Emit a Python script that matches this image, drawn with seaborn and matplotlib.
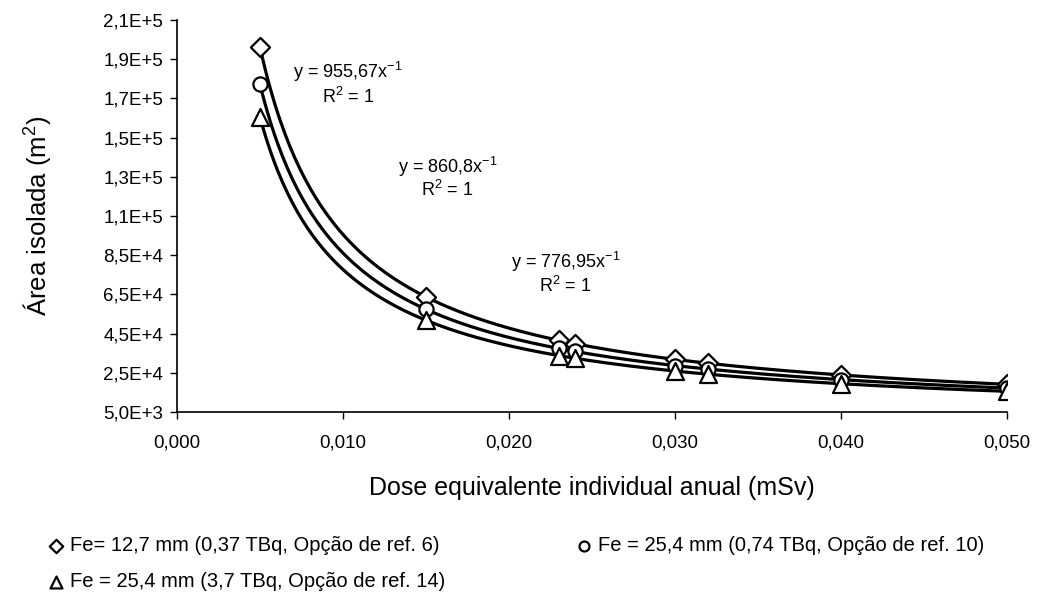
import numpy as np
import pandas as pd
import matplotlib
matplotlib.use("Agg")
import matplotlib.pyplot as plt
import seaborn as sns
from matplotlib.ticker import FixedLocator, FixedFormatter

# ---- data ----
dose = [0.005, 0.015, 0.023, 0.024, 0.030, 0.032, 0.040, 0.050]
area_diamond = [191000, 63700, 41600, 39800, 31900, 29900, 23900, 19100]
area_circle = [172200, 57400, 37400, 35900, 28700, 26900, 21500, 17200]
area_triangle = [155400, 51800, 33800, 32400, 25900, 24300, 19400, 15500]
fit_coef = [955.67, 860.8, 776.95]
fit_labels = ["y = 955,67x$^{-1}$", "y = 860,8x$^{-1}$", "y = 776,95x$^{-1}$"]
series_labels = [
    "Fe= 12,7 mm (0,37 TBq, Opção de ref. 6)",
    "Fe = 25,4 mm (0,74 TBq, Opção de ref. 10)",
    "Fe = 25,4 mm (3,7 TBq, Opção de ref. 14)",
]
y_ticks = [5000, 25000, 45000, 65000, 85000, 105000, 125000, 145000, 165000, 185000, 205000]
y_tick_labels = ["5,0E+3", "2,5E+4", "4,5E+4", "6,5E+4", "8,5E+4", "1,1E+5",
                 "1,3E+5", "1,5E+5", "1,7E+5", "1,9E+5", "2,1E+5"]
x_ticks = [0.0, 0.01, 0.02, 0.03, 0.04, 0.05]
x_tick_labels = ["0,000", "0,010", "0,020", "0,030", "0,040", "0,050"]

sns.set_style("ticks")
plt.rcParams["font.family"] = ["Liberation Sans", "DejaVu Sans"]
plt.rcParams["text.color"] = "black"
plt.rcParams["axes.labelcolor"] = "black"
plt.rcParams["mathtext.fontset"] = "custom"
plt.rcParams["mathtext.rm"] = "Liberation Sans"
plt.rcParams["mathtext.it"] = "Liberation Sans"
plt.rcParams["mathtext.default"] = "regular"

fig = plt.figure(figsize=(10.45, 6.01), dpi=100)
ax = fig.add_axes([177 / 1045, 1 - 412 / 601, 830 / 1045, 392 / 601])

# trend lines (power fits shown on the chart)
xs = np.linspace(dose[0], dose[-1], 300)
curve_df = pd.concat([
    pd.DataFrame({"x": xs, "y": c / xs, "fit": str(i)}) for i, c in enumerate(fit_coef)
])
sns.lineplot(data=curve_df, x="x", y="y", units="fit", estimator=None,
             color="black", linewidth=2.3, legend=False, ax=ax, zorder=2)

markers = ["D", "o", "^"]
sizes = [95, 105, 150]
point_series = [area_diamond, area_circle, area_triangle]
for vals, mk, lab, s in zip(point_series, markers, series_labels, sizes):
    sns.scatterplot(x=dose, y=vals, marker=mk, s=s, facecolor="white",
                    edgecolor="black", linewidth=1.6, label=lab, ax=ax, zorder=3)

ax.set_xlim(0, 0.05)
ax.set_ylim(5000, 205000)
ax.yaxis.set_major_locator(FixedLocator(y_ticks))
ax.yaxis.set_major_formatter(FixedFormatter(y_tick_labels))
ax.xaxis.set_major_locator(FixedLocator(x_ticks))
ax.xaxis.set_major_formatter(FixedFormatter(x_tick_labels))
ax.tick_params(axis="both", labelsize=13.5, direction="out", length=5, width=1,
               colors="black")
ax.tick_params(axis="x", pad=11)
ax.tick_params(axis="y", pad=5)
for side in ["top", "right"]:
    ax.spines[side].set_visible(False)
for side in ["left", "bottom"]:
    ax.spines[side].set_linewidth(1.2)
    ax.spines[side].set_color("black")

ax.set_xlabel("Dose equivalente individual anual (mSv)", fontsize=18)
ax.set_ylabel("Área isolada (m$^2$)", fontsize=18.5)
ax.xaxis.set_label_coords(0.5, -64 / 392, transform=ax.transAxes)
ax.yaxis.set_label_coords(-124 / 830, 0.5, transform=ax.transAxes)

# equations
eq_pos = [(0.0103, 178500, 165700), (0.0163, 130000, 118300), (0.0234, 81500, 69300)]
for lab, (xp, y1, y2) in zip(fit_labels, eq_pos):
    ax.text(xp, y1, lab, fontsize=13, ha="center", va="center")
    ax.text(xp, y2, "R$^2$ = 1", fontsize=13, ha="center", va="center")

handles, labels = ax.get_legend_handles_labels()
ax.get_legend().remove()
order = [0, 2, 1]
fig.legend([handles[i] for i in order], [labels[i] for i in order],
           loc="upper left", bbox_to_anchor=(50 / 1045, 1 - 536 / 601),
           ncol=2, frameon=False, fontsize=14.5, markerscale=0.7,
           handlelength=0.6, handletextpad=0.4, columnspacing=6.6,
           labelspacing=0.85, borderaxespad=0, borderpad=0)

fig.savefig("out.png", dpi=100)
